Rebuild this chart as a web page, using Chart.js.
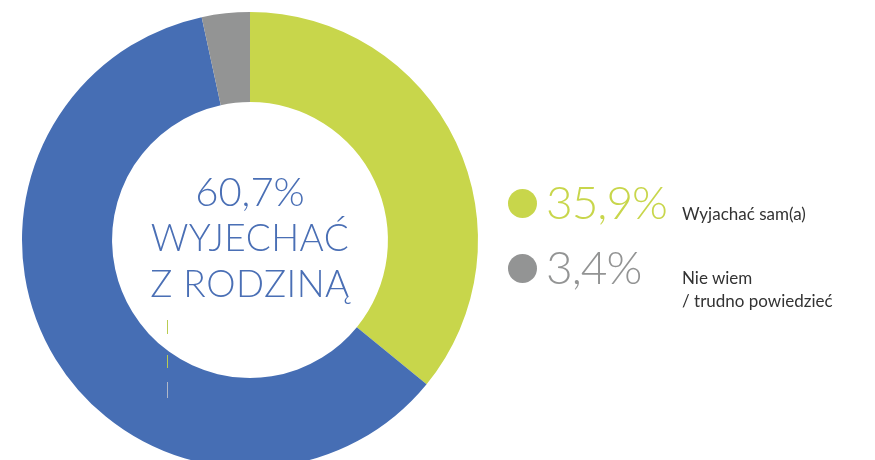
<!DOCTYPE html>
<html lang="pl">
<head>
<meta charset="utf-8">
<script src="https://cdn.jsdelivr.net/npm/chart.js@4"></script>
<style>
  html, body { margin: 0; padding: 0; background: #fff; overflow: hidden; }
  #wrap { position: relative; width: 875px; height: 460px; overflow: hidden; }
  #box { position: absolute; left: 0; top: 0; width: 875px; height: 480px; }
  .txt { position: absolute; font-family: "Lato", "Open Sans", sans-serif; white-space: nowrap; }
  #center { left: 150px; width: 200px; top: 168px; text-align: center; color: #4a6fb5; font-weight: 300; }
  #center .big { font-size: 40px; line-height: 46px; }
  #center .cap { font-size: 37px; line-height: 46px; letter-spacing: 0.5px; }
  .dot { position: absolute; width: 29px; height: 29px; border-radius: 50%; }
  .pct { font-size: 46px; font-weight: 300; letter-spacing: -1px; }
  .lab { font-size: 17px; color: #333; line-height: 23px; }
</style>
</head>
<body>
<div id="wrap">
  <div id="box"><canvas id="grafico"></canvas></div>
  <div id="center" class="txt"></div>
  <div id="legend"></div>
</div>
<script>
const etiquetas = ["Wyjachać sam(a)", "WYJECHAĆ Z RODZINĄ", "Nie wiem / trudno powiedzieć"];
const valores = [35.9, 60.7, 3.4];
const colores = ["#c8d64b", "#466eb4", "#939494"];
const textosPct = ["35,9%", "60,7%", "3,4%"];

// centro del anillo
const centro = document.getElementById("center");
centro.innerHTML = '<div class="big">' + textosPct[1] + '</div>' +
  '<div class="cap">WYJECHAĆ</div><div class="cap">Z RODZINĄ</div>';

// leyenda a la derecha (verde y gris)
const leyenda = document.getElementById("legend");
const filas = [
  { i: 0, y: 203, lineas: ["Wyjachać sam(a)"], ly: 202 },
  { i: 2, y: 268, lineas: ["Nie wiem", "/ trudno powiedzieć"], ly: 266 }
];
filas.forEach(f => {
  const d = document.createElement("div");
  d.className = "dot";
  d.style.left = "508px";
  d.style.top = (f.y - 14) + "px";
  d.style.background = colores[f.i];
  leyenda.appendChild(d);

  const p = document.createElement("div");
  p.className = "txt pct";
  p.style.left = "546px";
  p.style.top = (f.y - 29) + "px";
  p.style.color = colores[f.i];
  p.textContent = textosPct[f.i];
  leyenda.appendChild(p);

  const l = document.createElement("div");
  l.className = "txt lab";
  l.style.left = "682px";
  l.style.top = f.ly + "px";
  l.innerHTML = f.lineas.join("<br>");
  leyenda.appendChild(l);
});

// pequeñas marcas verticales dentro del anillo
const marcas = {
  id: "marcas",
  afterDraw(chart) {
    const ctx = chart.ctx;
    ctx.save();
    ctx.lineWidth = 1;
    [[320, 334, "#b9cc52"], [355, 368, "#b9cc52"], [382, 398, "#b0b8c8"]].forEach(s => {
      ctx.strokeStyle = s[2];
      ctx.beginPath();
      ctx.moveTo(167.5, s[0]);
      ctx.lineTo(167.5, s[1]);
      ctx.stroke();
    });
    ctx.restore();
  }
};

const ctx = document.getElementById("grafico").getContext("2d");
new Chart(ctx, {
  type: "doughnut",
  data: {
    labels: etiquetas,
    datasets: [{
      data: valores,
      backgroundColor: colores,
      borderWidth: 0
    }]
  },
  options: {
    responsive: true,
    maintainAspectRatio: false,
    animation: false,
    cutout: "60.5%",
    rotation: 0,
    layout: { padding: { left: 22, right: 397, top: 12, bottom: 12 } },
    plugins: {
      legend: { display: false },
      tooltip: { enabled: false }
    }
  },
  plugins: [marcas]
});
</script>
</body>
</html>
